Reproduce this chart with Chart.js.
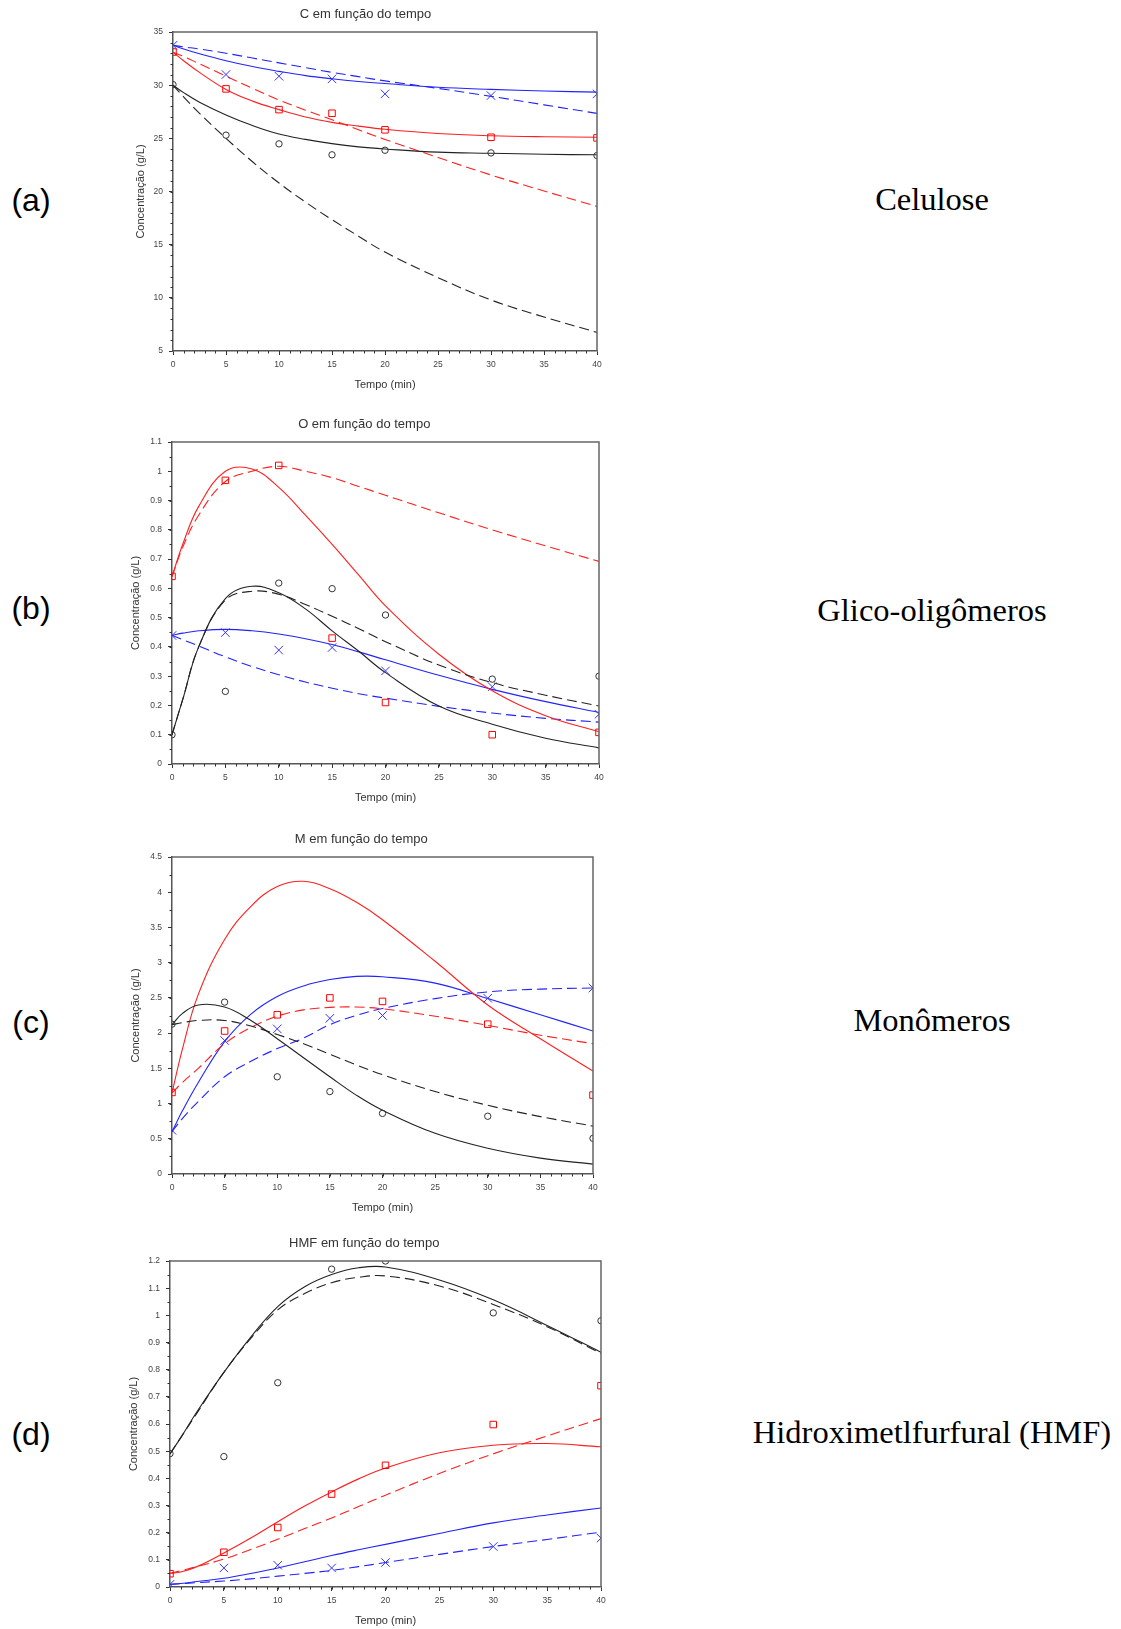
<!DOCTYPE html>
<html>
<head>
<meta charset="utf-8">
<script src="https://cdn.jsdelivr.net/npm/chart.js@4.4.1/dist/chart.umd.min.js"></script>
<style>
  body { margin: 0; background: #fff; width: 1121px; height: 1629px; position: relative; overflow: hidden; }
  canvas { position: absolute; }
  .tag { position: absolute; width: 60px; text-align: center; font-family: "Liberation Sans", Arial, sans-serif; font-size: 32px; line-height: 32px; color: #000; }
  .name { position: absolute; width: 440px; text-align: center; white-space: nowrap; font-family: "Liberation Serif", "Times New Roman", serif; font-size: 32.5px; line-height: 33px; color: #000; }
</style>
</head>
<body>
<canvas id="chartC"></canvas>
<canvas id="chartO"></canvas>
<canvas id="chartM"></canvas>
<canvas id="chartH"></canvas>

<div class="tag" style="left:1px; top:184px;">(a)</div>
<div class="tag" style="left:1px; top:592px;">(b)</div>
<div class="tag" style="left:1px; top:1006px;">(c)</div>
<div class="tag" style="left:1px; top:1418px;">(d)</div>

<div class="name" style="left:712px; top:183px;">Celulose</div>
<div class="name" style="left:712px; top:594px;">Glico-oligômeros</div>
<div class="name" style="left:712px; top:1004px;">Monômeros</div>
<div class="name" style="left:712px; top:1416px;">Hidroximetlfurfural (HMF)</div>

<script>
// sampling times (min)
var tExp = [0, 5, 10, 15, 20, 30, 40];
var tModel = [0, 1, 2.5, 5, 7.5, 10, 12.5, 15, 17.5, 20, 25, 30, 35, 40];

// C - celulose
var celExpBlack = [30.05, 25.3, 24.48, 23.45, 23.88, 23.63, 23.38];
var celExpRed = [33.12, 29.65, 27.7, 27.36, 25.8, 25.1, 25.04];
var celExpBlue = [33.75, 31.0, 30.84, 30.59, 29.18, 29.02, 29.18];
var celBlackSolid = [30, 29.3, 28.4, 27.2, 26.2, 25.4, 24.9, 24.5, 24.2, 24.0, 23.7, 23.6, 23.5, 23.45];
var celBlackDash = [30, 28.9, 27.35, 25.0, 22.8, 20.8, 19.0, 17.35, 15.8, 14.3, 11.9, 9.8, 8.2, 6.75];
var celRedSolid = [33.1, 32.3, 31.2, 29.6, 28.5, 27.7, 27.0, 26.5, 26.15, 25.85, 25.45, 25.25, 25.15, 25.1];
var celRedDash = [33.1, 32.7, 32.0, 30.85, 29.7, 28.6, 27.65, 26.75, 25.8, 24.9, 23.2, 21.55, 20.05, 18.6];
var celBlueSolid = [33.75, 33.4, 32.95, 32.3, 31.75, 31.3, 30.9, 30.6, 30.35, 30.15, 29.8, 29.6, 29.45, 29.35];
var celBlueDash = [33.75, 33.6, 33.4, 33.0, 32.55, 32.1, 31.65, 31.2, 30.8, 30.4, 29.7, 28.95, 28.15, 27.35];

// O - glico-oligomeros
var oliExpBlack = [0.1, 0.248, 0.618, 0.599, 0.509, 0.29, 0.3];
var oliExpRed = [0.641, 0.969, 1.02, 0.43, 0.21, 0.1, 0.108];
var oliExpBlue = [0.439, 0.449, 0.389, 0.398, 0.318, 0.264, 0.17];
var oliBlackSolid = [0.1, 0.22, 0.4, 0.565, 0.607, 0.585, 0.53, 0.455, 0.385, 0.312, 0.198, 0.136, 0.088, 0.055];
var oliBlackDash = [0.1, 0.22, 0.4, 0.56, 0.59, 0.58, 0.545, 0.505, 0.462, 0.418, 0.338, 0.278, 0.235, 0.198];
var oliRedSolid = [0.64, 0.75, 0.88, 1.0, 1.008, 0.945, 0.85, 0.75, 0.645, 0.54, 0.375, 0.25, 0.165, 0.11];
var oliRedDash = [0.64, 0.74, 0.85, 0.965, 1.0, 1.017, 1.0, 0.978, 0.948, 0.918, 0.858, 0.8, 0.745, 0.692];
var oliBlueSolid = [0.44, 0.447, 0.455, 0.46, 0.455, 0.444, 0.428, 0.408, 0.383, 0.356, 0.303, 0.255, 0.213, 0.176];
var oliBlueDash = [0.44, 0.425, 0.403, 0.366, 0.333, 0.305, 0.28, 0.259, 0.24, 0.225, 0.197, 0.174, 0.156, 0.143];

// M - monomeros
var monExpBlack = [2.127, 2.44, 1.38, 1.17, 0.86, 0.82, 0.506];
var monExpRed = [1.158, 2.03, 2.26, 2.5, 2.45, 2.127, 1.12];
var monExpBlue = [0.62, 1.895, 2.06, 2.21, 2.25, 2.495, 2.64];
var monBlackSolid = [2.12, 2.28, 2.4, 2.37, 2.18, 1.92, 1.65, 1.38, 1.12, 0.905, 0.577, 0.365, 0.225, 0.14];
var monBlackDash = [2.12, 2.15, 2.18, 2.18, 2.1, 1.98, 1.85, 1.7, 1.55, 1.41, 1.17, 0.975, 0.815, 0.68];
var monRedSolid = [1.15, 1.78, 2.55, 3.33, 3.8, 4.08, 4.155, 4.05, 3.86, 3.61, 3.02, 2.4, 1.92, 1.46];
var monRedDash = [1.15, 1.3, 1.5, 1.85, 2.08, 2.24, 2.33, 2.365, 2.37, 2.345, 2.24, 2.11, 1.97, 1.85];
var monBlueSolid = [0.6, 0.9, 1.3, 1.88, 2.27, 2.52, 2.67, 2.76, 2.805, 2.8, 2.71, 2.49, 2.26, 2.03];
var monBlueDash = [0.6, 0.79, 1.03, 1.38, 1.6, 1.78, 1.93, 2.12, 2.25, 2.35, 2.49, 2.585, 2.625, 2.64];

// HMF
var hmfExpBlack = [0.491, 0.48, 0.752, 1.17, 1.2, 1.009, 0.98];
var hmfExpRed = [0.049, 0.128, 0.219, 0.342, 0.448, 0.598, 0.741];
var hmfExpBlue = [0.01, 0.07, 0.08, 0.07, 0.09, 0.149, 0.18];
var hmfBlackSolid = [0.49, 0.55, 0.645, 0.79, 0.92, 1.032, 1.105, 1.15, 1.175, 1.178, 1.13, 1.057, 0.963, 0.864];
var hmfBlackDash = [0.49, 0.55, 0.64, 0.79, 0.915, 1.02, 1.08, 1.12, 1.14, 1.145, 1.108, 1.04, 0.958, 0.86];
var hmfRedSolid = [0.05, 0.055, 0.075, 0.125, 0.18, 0.24, 0.298, 0.35, 0.398, 0.438, 0.494, 0.522, 0.528, 0.516];
var hmfRedDash = [0.05, 0.06, 0.075, 0.103, 0.138, 0.176, 0.215, 0.254, 0.296, 0.338, 0.418, 0.49, 0.556, 0.62];
var hmfBlueSolid = [0.01, 0.013, 0.02, 0.032, 0.05, 0.07, 0.093, 0.116, 0.137, 0.157, 0.197, 0.236, 0.265, 0.291];
var hmfBlueDash = [0.01, 0.012, 0.016, 0.022, 0.03, 0.04, 0.05, 0.061, 0.075, 0.09, 0.12, 0.149, 0.175, 0.202];

var BLACK = '#222222', RED = '#ff1f1f', BLUE = '#2222ff';

Chart.defaults.font.family = '"Liberation Sans", Arial, sans-serif';
Chart.defaults.color = '#444';

// minor ticks plus the top/right frame lines
var frameAndMinor = {
    id: 'frameAndMinor',
    afterDraw: function(chart, args, o) {
        var ctx = chart.ctx, a = chart.chartArea;
        var xs = chart.scales.x, ys = chart.scales.y;
        ctx.save();
        ctx.strokeStyle = '#666';
        ctx.lineWidth = 1.5;
        ctx.beginPath();
        ctx.moveTo(a.left, a.top);
        ctx.lineTo(a.right, a.top);
        ctx.lineTo(a.right, a.bottom);
        ctx.stroke();

        ctx.strokeStyle = '#333';
        ctx.lineWidth = 1;
        ctx.beginPath();
        var n = Math.round((xs.max - xs.min) / o.x), i, p;
        for (i = 1; i < n; i++) {
            p = Math.round(xs.getPixelForValue(xs.min + i * o.x)) + 0.5;
            ctx.moveTo(p, a.bottom);
            ctx.lineTo(p, a.bottom + 2.5);
        }
        n = Math.round((ys.max - ys.min) / o.y);
        for (i = 1; i < n; i++) {
            p = Math.round(ys.getPixelForValue(ys.min + i * o.y)) + 0.5;
            ctx.moveTo(a.left, p);
            ctx.lineTo(a.left - 2.5, p);
        }
        ctx.stroke();
        ctx.restore();
    }
};

// "1", "1.1", "0.5" - no trailing zeros
function shortNumber(v) {
    return String(parseFloat(Number(v).toFixed(3)));
}

function curve(y, color, dashed) {
    return {
        data: tModel.map(function(t, i) { return {x: t, y: y[i]}; }),
        borderColor: color,
        borderWidth: 1.1,
        borderDash: dashed ? [10, 5] : [],
        pointRadius: 0,
        tension: 0.4,
        fill: false
    };
}

function markers(y, color, style, r) {
    return {
        data: tExp.map(function(t, i) { return {x: t, y: y[i]}; }),
        showLine: false,
        pointStyle: style,
        pointRadius: r,
        pointBorderWidth: 1,
        borderColor: color,
        backgroundColor: 'rgba(0,0,0,0)'
    };
}

function plot(id, title, box, yAxis, minorY, yW, series) {
    var canvas = document.getElementById(id);
    var L = box.left - 80, T = box.top - 40;
    var W = box.right - L + 20, H = box.bottom - T + 44;
    canvas.width = W; canvas.height = H;
    canvas.style.left = L + 'px';
    canvas.style.top = T + 'px';

    var tickFont = {size: 8.5};
    var axisBorder = {display: true, color: '#555', width: 1.5};
    var gridOpts = {drawOnChartArea: false, drawTicks: true, tickLength: 4, color: '#333', lineWidth: 1};

    new Chart(canvas.getContext('2d'), {
        type: 'line',
        data: {
            datasets: [
                markers(series.expBlack, '#333', 'circle', 3.2),
                markers(series.expRed, '#ff0000', 'rect', 4.6),
                markers(series.expBlue, '#3333ff', 'crossRot', 6),
                curve(series.blackSolid, BLACK, false),
                curve(series.blackDash, BLACK, true),
                curve(series.redSolid, RED, false),
                curve(series.redDash, RED, true),
                curve(series.blueSolid, BLUE, false),
                curve(series.blueDash, BLUE, true)
            ]
        },
        options: {
            responsive: false,
            animation: false,
            events: [],
            layout: {
                padding: {left: box.left - L - yW, top: box.top - T - 25.6, right: 20, bottom: 3}
            },
            plugins: {
                legend: {display: false},
                tooltip: {enabled: false},
                title: {
                    display: true, text: title, color: '#333',
                    font: {size: 13, weight: 'normal', lineHeight: 1.2},
                    padding: {top: 0, bottom: 10}
                },
                frameAndMinor: {x: 1, y: minorY}
            },
            scales: {
                x: {
                    type: 'linear', min: 0, max: 40,
                    ticks: {stepSize: 5, font: tickFont, padding: 4.5, maxRotation: 0, callback: shortNumber},
                    grid: gridOpts, border: axisBorder,
                    title: {display: true, text: 'Tempo (min)', color: '#333', font: {size: 11}, padding: 0},
                    afterFit: function(s) { s.height = 41; }
                },
                y: {
                    type: 'linear', min: yAxis[0], max: yAxis[1],
                    ticks: {stepSize: yAxis[2], font: tickFont, padding: 6, callback: shortNumber},
                    grid: gridOpts, border: axisBorder,
                    title: {display: true, text: 'Concentração (g/L)', color: '#333', font: {size: 11}, padding: 0},
                    afterFit: function(s) { s.width = yW; }
                }
            }
        },
        plugins: [frameAndMinor]
    });
}

plot('chartC', 'C em função do tempo', {left: 173, right: 597, top: 32.3, bottom: 352}, [5, 35, 5], 1, 39, {
    expBlack: celExpBlack, expRed: celExpRed, expBlue: celExpBlue,
    blackSolid: celBlackSolid, blackDash: celBlackDash,
    redSolid: celRedSolid, redDash: celRedDash,
    blueSolid: celBlueSolid, blueDash: celBlueDash
});

plot('chartO', 'O em função do tempo', {left: 172.3, right: 600, top: 442.3, bottom: 765}, [0, 1.1, 0.1], 0.05, 42.5, {
    expBlack: oliExpBlack, expRed: oliExpRed, expBlue: oliExpBlue,
    blackSolid: oliBlackSolid, blackDash: oliBlackDash,
    redSolid: oliRedSolid, redDash: oliRedDash,
    blueSolid: oliBlueSolid, blueDash: oliBlueDash
});

plot('chartM', 'M em função do tempo', {left: 172.3, right: 593.3, top: 856.7, bottom: 1174}, [0, 4.5, 0.5], 0.25, 42.5, {
    expBlack: monExpBlack, expRed: monExpRed, expBlue: monExpBlue,
    blackSolid: monBlackSolid, blackDash: monBlackDash,
    redSolid: monRedSolid, redDash: monRedDash,
    blueSolid: monBlueSolid, blueDash: monBlueDash
});

plot('chartH', 'HMF em função do tempo', {left: 170.3, right: 601.7, top: 1260.7, bottom: 1586.7}, [0, 1.2, 0.1], 0.05, 42.5, {
    expBlack: hmfExpBlack, expRed: hmfExpRed, expBlue: hmfExpBlue,
    blackSolid: hmfBlackSolid, blackDash: hmfBlackDash,
    redSolid: hmfRedSolid, redDash: hmfRedDash,
    blueSolid: hmfBlueSolid, blueDash: hmfBlueDash
});
</script>
</body>
</html>
